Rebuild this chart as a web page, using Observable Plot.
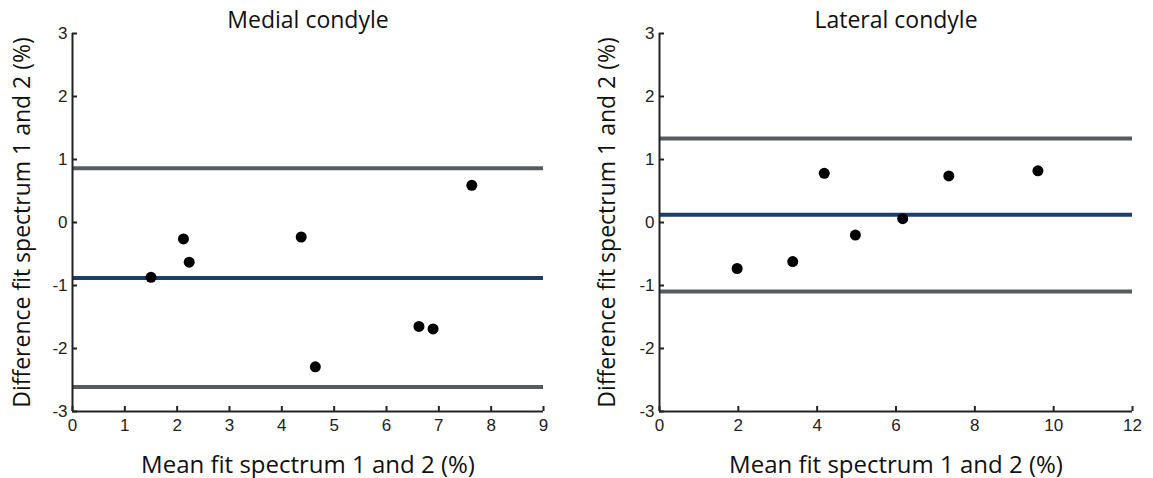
<!DOCTYPE html>
<html>
<head>
<meta charset="utf-8">
<script src="https://cdn.jsdelivr.net/npm/d3@7"></script>
<script src="https://cdn.jsdelivr.net/npm/@observablehq/plot@0.6"></script>
<style>
  html, body { margin: 0; padding: 0; background: #fff; }
  #wrap { display: flex; width: 1153px; height: 478px; }
</style>
</head>
<body>
<div id="wrap"></div>
<script>
// ---- Data ----
const medialMean = [1.5, 2.12, 2.23, 4.37, 4.64, 6.62, 6.89, 7.63];
const medialDiff = [-0.87, -0.26, -0.63, -0.23, -2.29, -1.65, -1.69, 0.59];
const medialBias = -0.88;
const medialLimits = [0.86, -2.61];

const lateralMean = [1.97, 3.38, 4.18, 4.97, 6.17, 7.34, 9.6];
const lateralDiff = [-0.73, -0.62, 0.78, -0.2, 0.06, 0.74, 0.82];
const lateralBias = 0.125;
const lateralLimits = [1.335, -1.095];

const titles = ["Medial condyle", "Lateral condyle"];
const xLabel = "Mean fit spectrum 1 and 2 (%)";
const yLabel = "Difference fit spectrum 1 and 2 (%)";
const yTicks = [-3, -2, -1, 0, 1, 2, 3];
const medialXTicks = [0, 1, 2, 3, 4, 5, 6, 7, 8, 9];
const lateralXTicks = [0, 2, 4, 6, 8, 10, 12];

const labelFont = "'Open Sans', 'Noto Sans', sans-serif";
const tickFont = "'Liberation Sans', Arial, sans-serif";

function panel({mean, diff, bias, limits, xTicks, xMax, title, width, marginLeft, marginRight, yLabelX}) {
  const marginTop = 33, marginBottom = 67, height = 478;
  const frameH = height - marginTop - marginBottom;
  const frameW = width - marginLeft - marginRight;
  const pts = mean.map((m, i) => ({m, d: diff[i]}));
  return Plot.plot({
    width, height, marginLeft, marginRight, marginTop, marginBottom,
    style: {fontFamily: tickFont, background: "#fff", overflow: "visible"},
    x: {domain: [0, xMax], axis: null},
    y: {domain: [-3, 3], axis: null},
    marks: [
      Plot.ruleY(limits, {stroke: "#575b60", strokeWidth: 4}),
      Plot.ruleY([bias], {stroke: "#1b3f6d", strokeWidth: 4}),
      // inward ticks
      Plot.ruleX(xTicks, {stroke: "#222", strokeWidth: 2, insetTop: frameH - 5}),
      Plot.ruleY(yTicks, {stroke: "#222", strokeWidth: 2, insetRight: frameW - 5}),
      // axis lines
      Plot.ruleX([0], {stroke: "#222", strokeWidth: 2}),
      Plot.ruleY([-3], {stroke: "#222", strokeWidth: 2}),
      // tick labels
      Plot.text(xTicks, {x: d => d, text: d => String(d), frameAnchor: "bottom", dy: 14, lineAnchor: "middle",
        fontSize: 17, fontFamily: tickFont, fill: "#222"}),
      Plot.text(yTicks, {y: d => d, text: d => String(d), frameAnchor: "left", dx: -5, textAnchor: "end", lineAnchor: "middle",
        fontSize: 17, fontFamily: tickFont, fill: "#222"}),
      Plot.dot(pts, {x: "m", y: "d", r: 5.5, fill: "#000", stroke: "none"}),
      Plot.text([title], {frameAnchor: "top", dy: -13, fontSize: 23, fontFamily: labelFont, fill: "#111", lineAnchor: "middle"}),
      Plot.text([xLabel], {frameAnchor: "bottom", dy: 54, fontSize: 24, fontFamily: labelFont, fill: "#111", lineAnchor: "middle"}),
      Plot.text([yLabel], {frameAnchor: "left", dx: -(marginLeft - yLabelX), rotate: -90, fontSize: 23, fontFamily: labelFont, fill: "#111", textAnchor: "middle", lineAnchor: "middle"})
    ]
  });
}

const wrap = document.getElementById("wrap");
wrap.append(panel({mean: medialMean, diff: medialDiff, bias: medialBias, limits: medialLimits,
  xTicks: medialXTicks, xMax: 9, title: titles[0], width: 576, marginLeft: 72, marginRight: 33, yLabelX: 22}));
wrap.append(panel({mean: lateralMean, diff: lateralDiff, bias: lateralBias, limits: lateralLimits,
  xTicks: lateralXTicks, xMax: 12, title: titles[1], width: 577, marginLeft: 83, marginRight: 21, yLabelX: 31}));
</script>
</body>
</html>
